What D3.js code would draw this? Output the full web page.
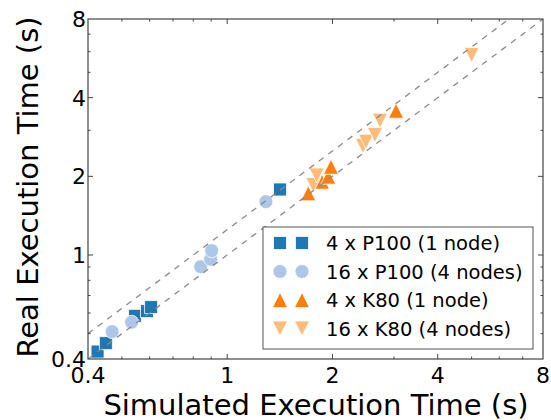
<!DOCTYPE html>
<html>
<head>
<script src="https://d3js.org/d3.v7.min.js"></script>
<style>
  body { margin: 0; background: #fff; }
  svg { font-family: "DejaVu Sans", sans-serif; }
  .frame { fill: none; stroke: #444; stroke-width: 1.2; }
  .tick { stroke: #444; stroke-width: 1; }
  .guide { fill: none; stroke: #8a8a8a; stroke-width: 1.3; stroke-dasharray: 6 6; }
</style>
</head>
<body>
<script>
var majorTicks = [0.4, 1, 2, 4, 8];
var minorTicks = [0.5, 0.6, 0.7, 0.8, 0.9, 3, 5, 6, 7];

var p100One = [[0.426, 0.427], [0.45, 0.46], [0.545, 0.585], [0.59, 0.61], [0.606, 0.632], [1.416, 1.781]];
var p100Four = [[0.469, 0.509], [0.533, 0.553], [0.84, 0.902], [0.897, 0.963], [0.903, 1.039], [1.291, 1.6]];
var k80One = [[1.706, 1.722], [1.867, 1.908], [1.946, 1.994], [1.981, 2.177], [3.04, 3.566]];
var k80Four = [[1.763, 1.853], [1.803, 2.015], [2.446, 2.613], [2.494, 2.714], [2.646, 2.878], [2.735, 3.266], [5.0, 5.82]];

var seriesNames = ["4 x P100 (1 node)", "16 x P100 (4 nodes)", "4 x K80 (1 node)", "16 x K80 (4 nodes)"];
var seriesColors = ["#1f77b4", "#aec7e8", "#ff7f0e", "#ffbb78"];
var seriesShapes = ["square", "circle", "up", "down"];
var seriesData = [p100One, p100Four, k80One, k80Four];
var guideRatios = [1, 1.25];

var W = 551, H = 420;
var pad = { left: 88, right: 543, top: 19, bottom: 359 };

var x = d3.scaleLog().domain([0.4, 8]).range([pad.left, pad.right]);
var y = d3.scaleLog().domain([0.4, 8]).range([pad.bottom, pad.top]);

var svg = d3.select("body").append("svg")
  .attr("width", W)
  .attr("height", H);

// marker path for each shape, centred on (0,0)
function marker(shape) {
  if (shape == "square") return "M-6.5,-6.5H6.5V6.5H-6.5Z";
  if (shape == "circle") return d3.symbol(d3.symbolCircle, Math.PI * 49)();
  if (shape == "up") return "M0,-7.5L7.5,7.5L-7.5,7.5Z";
  return "M0,7.5L7.5,-7.5L-7.5,-7.5Z";
}

// points
seriesData.forEach(function (data, i) {
  svg.append("g")
    .selectAll("path")
    .data(data)
    .enter().append("path")
    .attr("d", marker(seriesShapes[i]))
    .attr("transform", function (d) { return "translate(" + x(d[0]) + "," + y(d[1]) + ")"; })
    .attr("fill", seriesColors[i])
    .attr("stroke", "#fff")
    .attr("stroke-width", 0.8);
});

// dashed guide lines y = r * x
svg.append("clipPath").attr("id", "plot")
  .append("rect").attr("x", pad.left).attr("y", pad.top)
  .attr("width", pad.right - pad.left).attr("height", pad.bottom - pad.top);

svg.append("g")
  .attr("clip-path", "url(#plot)")
  .selectAll("line")
  .data(guideRatios)
  .enter().append("line")
  .attr("class", "guide")
  .attr("x1", x(0.4)).attr("y1", function (r) { return y(0.4 * r); })
  .attr("x2", x(8)).attr("y2", function (r) { return y(8 * r); });

// frame
svg.append("rect")
  .attr("class", "frame")
  .attr("x", pad.left).attr("y", pad.top)
  .attr("width", pad.right - pad.left).attr("height", pad.bottom - pad.top);

// inward ticks on all four sides
function ticks(values, len) {
  var g = svg.append("g");
  values.forEach(function (v) {
    g.append("line").attr("class", "tick").attr("x1", x(v)).attr("x2", x(v)).attr("y1", pad.bottom).attr("y2", pad.bottom - len);
    g.append("line").attr("class", "tick").attr("x1", x(v)).attr("x2", x(v)).attr("y1", pad.top).attr("y2", pad.top + len);
    g.append("line").attr("class", "tick").attr("y1", y(v)).attr("y2", y(v)).attr("x1", pad.left).attr("x2", pad.left + len);
    g.append("line").attr("class", "tick").attr("y1", y(v)).attr("y2", y(v)).attr("x1", pad.right).attr("x2", pad.right - len);
  });
}
ticks(majorTicks.slice(1, -1), 5);
ticks(minorTicks, 2.5);

// tick labels
svg.append("g")
  .selectAll("text")
  .data(majorTicks)
  .enter().append("text")
  .attr("x", function (d) { return x(d); })
  .attr("y", 383)
  .attr("text-anchor", "middle")
  .attr("font-size", 22)
  .text(function (d) { return d; });

svg.append("g")
  .selectAll("text")
  .data(majorTicks)
  .enter().append("text")
  .attr("x", 86)
  .attr("y", function (d) { return y(d); })
  .attr("dy", "0.36em")
  .attr("text-anchor", "end")
  .attr("font-size", 22)
  .text(function (d) { return d; });

// axis titles
svg.append("text")
  .attr("x", 316)
  .attr("y", 415)
  .attr("text-anchor", "middle")
  .attr("font-size", 29)
  .text("Simulated Execution Time (s)");

svg.append("text")
  .attr("transform", "translate(38,187) rotate(-90)")
  .attr("text-anchor", "middle")
  .attr("font-size", 29)
  .text("Real Execution Time (s)");

// legend
var legend = svg.append("g");
legend.append("rect")
  .attr("x", 263).attr("y", 227)
  .attr("width", 270).attr("height", 122)
  .attr("fill", "#fff")
  .attr("stroke", "#555")
  .attr("stroke-width", 1);

seriesNames.forEach(function (name, i) {
  var cy = 243 + i * 28.5;
  [280, 302].forEach(function (cx) {
    legend.append("path")
      .attr("d", marker(seriesShapes[i]))
      .attr("transform", "translate(" + cx + "," + cy + ")")
      .attr("fill", seriesColors[i])
      .attr("stroke", "#fff")
      .attr("stroke-width", 0.8);
  });
  legend.append("text")
    .attr("x", 326)
    .attr("y", cy)
    .attr("dy", "0.36em")
    .attr("font-size", 19.5)
    .text(name);
});
</script>
</body>
</html>
